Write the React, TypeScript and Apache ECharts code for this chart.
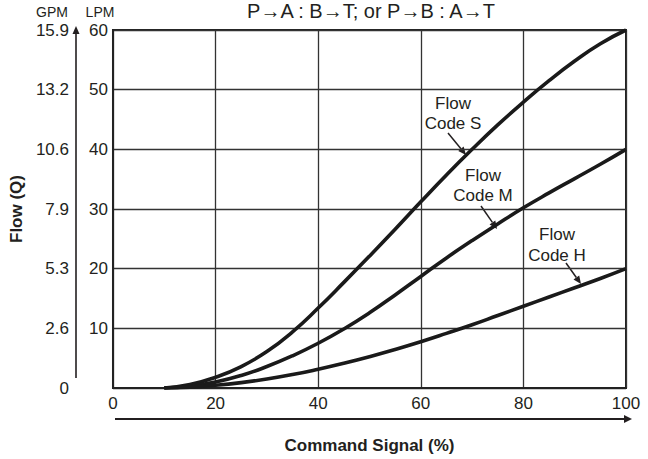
import React, { useEffect, useRef } from "react";
import * as echarts from "echarts";

// Command signal (%) sample points
const signal = [10, 15, 20, 25, 30, 35, 40, 45, 50, 55, 60, 65, 70, 75, 80, 85, 90, 95, 100];
// Flow (LPM) for each flow code
const flowS = [0, 0.6, 1.8, 3.6, 6.1, 9.4, 13.4, 17.7, 22.1, 26.6, 31.2, 35.7, 40.0, 44.1, 47.9, 51.5, 54.8, 57.7, 60.0];
const flowM = [0, 0.3, 1.0, 2.1, 3.6, 5.4, 7.5, 9.9, 12.6, 15.6, 18.7, 21.8, 24.7, 27.5, 30.2, 32.7, 35.1, 37.5, 40.0];
const flowH = [0, 0.15, 0.45, 0.9, 1.5, 2.25, 3.15, 4.15, 5.25, 6.45, 7.75, 9.15, 10.6, 12.15, 13.7, 15.25, 16.8, 18.35, 20.0];
// Secondary (GPM) tick labels matching LPM ticks 0,10,...,60
const gpmTicks = ["0", "2.6", "5.3", "7.9", "10.6", "13.2", "15.9"];
const seriesNames = ["Flow Code S", "Flow Code M", "Flow Code H"];
const title = "P\u2192A : B\u2192T; or P\u2192B : A\u2192T";

const FONT = "'Liberation Sans', Arial, Helvetica, sans-serif";
const INK = "#231f20";

function arrow(x1: number, y1: number, x2: number, y2: number, head = 8, half = 3.5, w = 1.5) {
  const dx = x2 - x1;
  const dy = y2 - y1;
  const len = Math.sqrt(dx * dx + dy * dy);
  const ux = dx / len;
  const uy = dy / len;
  const bx = x2 - ux * head;
  const by = y2 - uy * head;
  const px = -uy;
  const py = ux;
  return [
    { type: "line", silent: true, shape: { x1, y1, x2: bx, y2: by }, style: { stroke: INK, lineWidth: w } },
    {
      type: "polygon",
      silent: true,
      shape: { points: [[x2, y2], [bx + px * half, by + py * half], [bx - px * half, by - py * half]] },
      style: { fill: INK },
    },
  ];
}

function label(text: string, x: number, y: number) {
  return {
    type: "text",
    x,
    y,
    style: { text, fill: INK, font: `17px ${FONT}`, textAlign: "center", textVerticalAlign: "middle", lineHeight: 20 },
  };
}

export default function App() {
  const ref = useRef<HTMLDivElement>(null);
  useEffect(() => {
    if (!ref.current) return;
    const chart = echarts.init(ref.current, undefined, { renderer: "svg" });
    const data = [flowS, flowM, flowH];
    chart.setOption({
      animation: false,
      backgroundColor: "#ffffff",
      textStyle: { fontFamily: FONT },
      grid: { left: 111, right: 22, top: 30, bottom: 69, show: true, borderColor: "#222", borderWidth: 2 },
      xAxis: {
        type: "value",
        min: 0,
        max: 100,
        interval: 20,
        name: "Command Signal (%)",
        nameLocation: "middle",
        nameGap: 49,
        nameTextStyle: { fontSize: 17, fontWeight: "bold", color: INK, fontFamily: FONT },
        axisLine: { show: true, lineStyle: { color: "#222", width: 2 } },
        axisTick: { show: false },
        splitLine: { show: true, lineStyle: { color: "#333", width: 1.3 } },
        axisLabel: { fontSize: 17, color: INK, margin: 7, fontFamily: FONT },
      },
      yAxis: [
        {
          type: "value",
          position: "left",
          min: 0,
          max: 60,
          interval: 10,
          axisLine: { show: true, lineStyle: { color: "#222", width: 2 } },
          axisTick: { show: false },
          splitLine: { show: true, lineStyle: { color: "#333", width: 1.3 } },
          axisLabel: {
            fontSize: 17,
            color: INK,
            margin: 5,
            fontFamily: FONT,
            formatter: (v: number) => (v === 0 ? "" : String(v)),
          },
        },
        {
          type: "value",
          position: "left",
          offset: 40,
          min: 0,
          max: 60,
          interval: 10,
          name: "Flow (Q)",
          nameLocation: "middle",
          nameGap: 46,
          nameRotate: 90,
          nameTextStyle: { fontSize: 17, fontWeight: "bold", color: INK, fontFamily: FONT },
          axisLine: { show: false },
          axisTick: { show: false },
          splitLine: { show: false },
          axisLabel: {
            fontSize: 17,
            color: INK,
            margin: 4,
            fontFamily: FONT,
            formatter: (v: number) => gpmTicks[Math.round(v / 10)],
          },
        },
      ],
      series: data.map((d, k) => ({
        name: seriesNames[k],
        type: "line",
        yAxisIndex: 0,
        smooth: true,
        showSymbol: false,
        lineStyle: { color: "#1a1a1a", width: 3.6 },
        data: signal.map((x, i) => [x, d[i]]),
      })),
      graphic: [
        {
          type: "text",
          x: 371,
          y: 11,
          style: { text: title, fill: INK, font: `20px ${FONT}`, textAlign: "center", textVerticalAlign: "middle" },
        },
        {
          type: "text",
          x: 52,
          y: 12,
          style: { text: "GPM", fill: INK, font: `14px ${FONT}`, textAlign: "center", textVerticalAlign: "middle" },
        },
        {
          type: "text",
          x: 100,
          y: 12,
          style: { text: "LPM", fill: INK, font: `14px ${FONT}`, textAlign: "center", textVerticalAlign: "middle" },
        },
        ...arrow(76, 378, 76, 26, 8, 3.5, 1.6),
        ...arrow(115, 419, 632, 419, 8, 4, 1.8),
        label("Flow", 453, 103),
        label("Code S", 453, 123),
        ...arrow(448, 133, 466, 155),
        label("Flow", 483, 175),
        label("Code M", 483, 195),
        ...arrow(481, 206, 497, 229),
        label("Flow", 557, 234),
        label("Code H", 557, 255),
        ...arrow(566, 263, 581, 284),
      ],
    });
    return () => chart.dispose();
  }, []);
  return <div ref={ref} style={{ width: 648, height: 459, position: "absolute", left: 0, top: 0 }} />;
}
